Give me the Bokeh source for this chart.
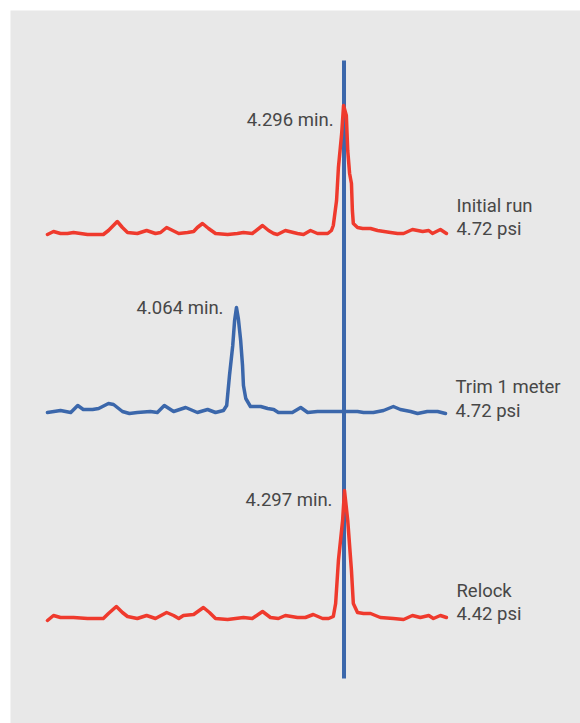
from bokeh.plotting import figure
from bokeh.models import Range1d
from bokeh.core.properties import value
from bokeh.embed import file_html
from bokeh.resources import INLINE

# ---- data (retention time in minutes, detector signal above each trace's baseline) ----
initial_t = [3.659, 3.672, 3.687, 3.702, 3.715, 3.730, 3.745, 3.779, 3.790, 3.809, 3.820, 3.831,
             3.852, 3.872, 3.891, 3.902, 3.915, 3.928, 3.941, 3.960, 3.973, 3.981, 3.992, 4.005,
             4.020, 4.046, 4.067, 4.080, 4.099, 4.121, 4.134, 4.145, 4.153, 4.170, 4.196, 4.209,
             4.224, 4.239, 4.261, 4.269, 4.273, 4.280, 4.284, 4.291, 4.295, 4.301, 4.304, 4.308,
             4.312, 4.314, 4.316, 4.325, 4.336, 4.353, 4.368, 4.396, 4.411, 4.424, 4.443, 4.465,
             4.478, 4.486, 4.503, 4.516]
initial_s = [-1, 2, 0, 0, 1, 0, -1, -1, 3, 12, 6, 1,
             0, 3, 0, 1, 6, 3, 0, 1, 2, 6, 10, 5,
             0, -1, 0, 1, 0, 8, 3, 0, -1, 3, 0, -1,
             3, 0, 0, 3, 8, 33, 66, 100, 128, 118, 83, 60,
             50, 23, 10, 6, 5, 5, 3, 1, 0, 0, 4, 2,
             3, 0, 4, 0]

trim_t = [3.659, 3.687, 3.709, 3.724, 3.736, 3.756, 3.769, 3.790, 3.801, 3.820, 3.835, 3.852,
          3.880, 3.895, 3.910, 3.930, 3.956, 3.981, 4.003, 4.020, 4.037, 4.044, 4.050, 4.057,
          4.061, 4.065, 4.069, 4.074, 4.078, 4.080, 4.085, 4.095, 4.117, 4.132, 4.145, 4.155,
          4.185, 4.203, 4.218, 4.239, 4.267, 4.295, 4.325, 4.338, 4.359, 4.381, 4.402, 4.417,
          4.439, 4.454, 4.475, 4.497, 4.514]
trim_s = [-1, 1, -1, 6, 2, 2, 3, 8, 7, 0, -2, -1,
          0, -1, 6, 0, 4, -1, 2, -1, 1, 6, 36, 66,
          91, 104, 93, 71, 46, 26, 13, 5, 5, 3, 2, -1,
          -1, 4, -1, 0, 0, 0, 0, -1, -1, 1, 5, 2,
          0, -2, 0, 0, -2]

relock_t = [3.659, 3.672, 3.687, 3.715, 3.745, 3.779, 3.790, 3.807, 3.820, 3.831, 3.852, 3.872,
            3.891, 3.915, 3.930, 3.941, 3.951, 3.973, 3.994, 4.007, 4.020, 4.046, 4.080, 4.099,
            4.121, 4.138, 4.155, 4.170, 4.196, 4.213, 4.230, 4.250, 4.263, 4.273, 4.278, 4.284,
            4.293, 4.297, 4.304, 4.312, 4.316, 4.325, 4.338, 4.353, 4.374, 4.402, 4.424, 4.443,
            4.460, 4.478, 4.488, 4.503, 4.516]
relock_s = [-2, 3, 1, 1, 0, 0, 5, 12, 6, 2, 0, 3,
            0, 6, 3, 0, 3, 4, 11, 6, 0, -1, 1, 0,
            7, 1, 0, 3, 1, 1, 4, 0, 0, 2, 15, 58,
            98, 128, 98, 48, 15, 6, 5, 5, 1, 0, -1, 3,
            1, 3, 0, 3, 1]

trace_names = ["Initial run", "Trim 1 meter", "Relock"]
trace_pressures = ["4.72 psi", "4.72 psi", "4.42 psi"]
trace_offsets = [490, 312, 105]          # vertical stacking offset of each trace
peak_labels = ["4.296 min.", "4.064 min.", "4.297 min."]
marker_rt = 4.296                        # reference retention time line
marker_span = [45, 663]

# ---- styles ----
RED = "#ef3a2d"
BLUE = "#3b67ab"
colors = [RED, BLUE, RED]
peak_label_offsets = [(-10, 14), (-13, 0), (-12, 9)]
side_label_offsets = [(-28, -5), (-25, -1), (-28, -5)]
TEXT_COLOR = "#474747"
FONT = value("Roboto")
FS = "18.5px"

p = figure(width=580, height=723, output_backend="svg", toolbar_location=None,
           x_range=Range1d(3.5796, 4.804), y_range=Range1d(0, 713),
           x_axis_location=None, y_axis_location=None,
           min_border_left=10, min_border_top=10, min_border_right=0, min_border_bottom=0,
           background_fill_color="#e8e8e8", border_fill_color="white")
p.outline_line_color = None
p.xgrid.visible = False
p.ygrid.visible = False

p.segment(x0=[marker_rt], y0=[marker_span[0]], x1=[marker_rt], y1=[marker_span[1]],
          line_color=BLUE, line_width=4)

series = [(initial_t, initial_s), (trim_t, trim_s), (relock_t, relock_s)]
for i, (t, s) in enumerate(series):
    off = trace_offsets[i]
    y = [v + off for v in s]
    p.line(t, y, line_color=colors[i], line_width=3.5, line_join="round", line_cap="round")

    # peak label
    k = max(range(len(s)), key=lambda j: s[j])
    dx, dy = peak_label_offsets[i]
    p.text(x=[t[k]], y=[y[k]], text=[peak_labels[i]], x_offset=dx, y_offset=dy,
           text_align="right", text_baseline="middle", text_font=FONT,
           text_font_size=FS, text_color=TEXT_COLOR)

    # right side labels
    n1, n2 = side_label_offsets[i]
    p.text(x=[t[-1]], y=[off], text=[trace_names[i]], x_offset=10, y_offset=n1,
           text_align="left", text_baseline="middle", text_font=FONT,
           text_font_size=FS, text_color=TEXT_COLOR)
    p.text(x=[t[-1]], y=[off], text=[trace_pressures[i]], x_offset=10, y_offset=n2,
           text_align="left", text_baseline="middle", text_font=FONT,
           text_font_size=FS, text_color=TEXT_COLOR)

open("out.html", "w").write(file_html(p, INLINE))
